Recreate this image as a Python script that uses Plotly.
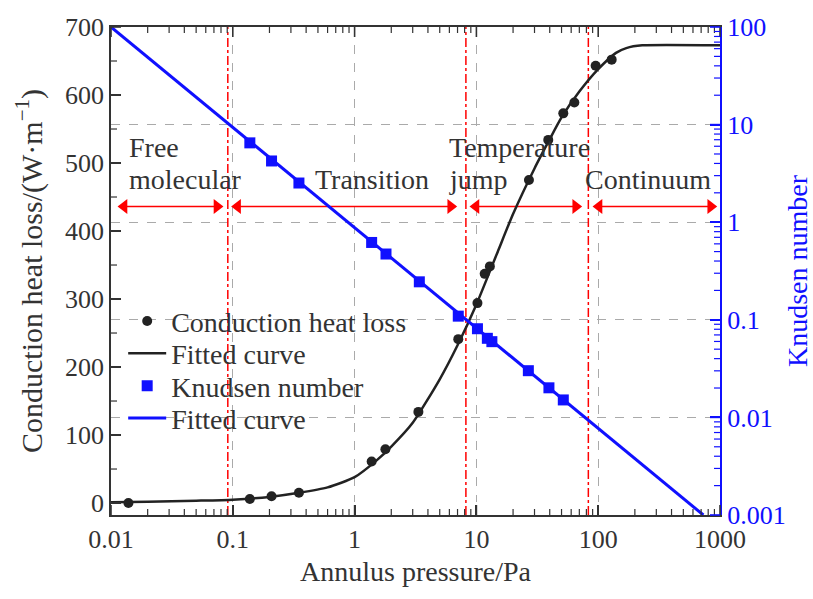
import numpy as np
import plotly.graph_objects as go

# ---------------- data ----------------
# Conduction heat loss measurements (W/m) vs annulus pressure (Pa)
p_heat = [0.0139, 0.138, 0.208, 0.349, 1.38, 1.79, 3.34, 7.1, 10.2, 11.7, 12.9,
          27.0, 38.9, 51.7, 63.7, 95.3, 129]
q_heat = [0, 6, 10, 15, 61, 79, 134, 241, 294, 337, 348,
          475, 534, 573, 589, 643, 652]

# fitted curve for heat loss
p_heat_fit = [0.01, 0.02, 0.05, 0.1, 0.2, 0.35, 0.6, 1, 1.5, 2, 3, 5, 7, 10, 15,
              20, 30, 40, 50, 70, 100, 140, 170, 230, 1000]
q_heat_fit = [1, 2, 3.5, 5, 9, 15, 23, 38, 62, 83, 118, 182, 232, 292, 370,
              425, 492, 535, 567, 605, 638, 662, 669, 673, 673]

# Knudsen number measurements
p_kn = [0.138, 0.208, 0.349, 1.38, 1.81, 3.40, 7.10, 10.2, 12.3, 13.4, 26.7, 39.4, 51.7]
kn = [6.5, 4.24, 2.52, 0.62, 0.472, 0.245, 0.109, 0.081, 0.0646, 0.0597, 0.0301, 0.0201, 0.0151]

# Knudsen fitted line (straight in log-log)
p_kn_fit = [0.01, 730]
kn_fit = [100, 0.001]

# flow regime boundaries (Pa) and regime arrows (arrow-head centres)
boundary_p = [0.091, 8.2, 83]
arrow_start = [0.0128, 0.1096, 9.93, 101.6]
arrow_end = [0.0741, 6.15, 65.3, 839]
arrow_q = 436

regime_lines = [("Free", 0.0135, 1), ("molecular", 0.0135, 2), ("Transition", 0.455, 2),
                ("Temperature", 5.74, 1), ("jump", 5.74, 2), ("Continuum", 75, 2)]
line_q = {1: 523, 2: 476}

x_tickvals = [0.01, 0.1, 1, 10, 100, 1000]
x_ticktext = ["0.01", "0.1", "1", "10", "100", "1000"]
y_tickvals = [0, 100, 200, 300, 400, 500, 600, 700]
y_minor = [50, 150, 250, 350, 450, 550, 650]
y2_tickvals = [0.001, 0.01, 0.1, 1, 10, 100]
y2_ticktext = ["0.001", "0.01", "0.1", "1", "10", "100"]
x_minor = [k * 10.0 ** e for e in range(-2, 3) for k in range(2, 10)]
y2_minor = [k * 10.0 ** e for e in range(-3, 2) for k in range(2, 10)]

x_log_range = [-2, 3]
y_range = [-17.6, 700]
y2_log_range = [-3, 2]

# legend row centres (paper fraction)
legend_rows = [0.397, 0.331, 0.264, 0.198]

FONT = "Liberation Serif, Times New Roman, serif"
TXT = "#333333"
BLUE = "#1010ff"

W, H = 813, 599
ML, MR, MT, MB = 111, 93, 27, 84
PW, PH = W - ML - MR, H - MT - MB

fig = go.Figure()

# red dash-dot regime boundaries
for b in boundary_p:
    fig.add_trace(go.Scatter(x=[b, b], y=y_range, mode="lines",
                             line=dict(color="red", width=1.5, dash="dashdot"),
                             showlegend=False, hoverinfo="skip"))

# regime arrows
for s, e in zip(arrow_start, arrow_end):
    fig.add_trace(go.Scatter(x=[s, e], y=[arrow_q, arrow_q], mode="lines+markers",
                             line=dict(color="red", width=1.5),
                             marker=dict(symbol=["triangle-left", "triangle-right"], size=13,
                                         color="red"),
                             showlegend=False, hoverinfo="skip"))

fig.add_trace(go.Scatter(x=p_heat, y=q_heat, mode="markers", name="Conduction heat loss",
                         marker=dict(symbol="circle", size=10, color="#222222"),
                         legend="legend"))
fig.add_trace(go.Scatter(x=p_heat_fit, y=q_heat_fit, mode="lines", name="Fitted curve",
                         line=dict(color="#222222", width=2.5, shape="spline", smoothing=0.6),
                         legend="legend2"))
fig.add_trace(go.Scatter(x=p_kn, y=kn, mode="markers", name="Knudsen number", yaxis="y2",
                         marker=dict(symbol="square", size=11, color=BLUE),
                         legend="legend3"))
fig.add_trace(go.Scatter(x=p_kn_fit, y=kn_fit, mode="lines", name="Fitted curve", yaxis="y2",
                         line=dict(color=BLUE, width=3), legend="legend4"))

# regime labels
for txt, px, ln in regime_lines:
    fig.add_annotation(x=np.log10(px), y=line_q[ln], xref="x", yref="y", text=txt,
                       showarrow=False, xanchor="left", yanchor="middle",
                       font=dict(family=FONT, size=28, color=TXT))

# inward tick marks drawn explicitly (paper coordinates derived from the axis ranges)
def xfrac(v):
    return (np.log10(v) - x_log_range[0]) / (x_log_range[1] - x_log_range[0])

def y2frac(v):
    return (np.log10(v) - y2_log_range[0]) / (y2_log_range[1] - y2_log_range[0])

tick_shapes = []
for vals, length, width in [(x_tickvals, 10, 1.6), (x_minor, 6, 1.2)]:
    for v in vals:
        f = xfrac(v)
        for y0, sgn in [(0, 1), (1, -1)]:
            tick_shapes.append(dict(type="line", xref="paper", yref="paper", x0=f, x1=f,
                                    y0=y0, y1=y0 + sgn * length / PH,
                                    line=dict(color="#333333", width=width)))
for vals, length, width in [(y_tickvals, 10, 1.6), (y_minor, 6, 1.2)]:
    for v in vals:
        tick_shapes.append(dict(type="line", xref="paper", yref="y", x0=0, x1=length / PW,
                                y0=v, y1=v, line=dict(color="#333333", width=width)))
for vals, length, width in [(y2_tickvals, 10, 1.6), (y2_minor, 6, 1.2)]:
    for v in vals:
        f = y2frac(v)
        tick_shapes.append(dict(type="line", xref="paper", yref="paper", x0=1,
                                x1=1 - length / PW, y0=f, y1=f,
                                line=dict(color=BLUE, width=width)))

leg_common = dict(x=0.02, xanchor="left", yanchor="middle", bgcolor="rgba(0,0,0,0)",
                  font=dict(family=FONT, size=28, color=TXT), itemwidth=38)
legends = {}
for i, yy in enumerate(legend_rows):
    key = "legend" if i == 0 else f"legend{i + 1}"
    legends[key] = dict(y=yy, **leg_common)

fig.update_layout(
    width=W, height=H,
    margin=dict(l=ML, r=MR, t=MT, b=MB, autoexpand=False),
    paper_bgcolor="white", plot_bgcolor="white",
    font=dict(family=FONT, size=26, color=TXT),
    showlegend=True,
    shapes=tick_shapes,
    **legends,
    xaxis=dict(type="log", range=x_log_range, tickmode="array", tickvals=x_tickvals,
               ticktext=x_ticktext, ticks="inside", ticklen=10, tickwidth=1.6,
               tickcolor="#333", showline=True, linecolor="#333", linewidth=1.5,
               mirror=True, showgrid=True, gridcolor="#aaaaaa", griddash="dash",
               automargin=False,
               title=dict(text="Annulus pressure/Pa", font=dict(family=FONT, size=28, color=TXT),
                          standoff=8),
               tickfont=dict(family=FONT, size=26, color=TXT)),
    yaxis=dict(range=y_range, tickmode="array", tickvals=y_tickvals, ticks="inside",
               ticklen=10, tickwidth=1.6, tickcolor="#333", showline=True, linecolor="#333",
               linewidth=1.5, showgrid=False, automargin=False,
               title=dict(text="Conduction heat loss/(W·m<sup>−1</sup>)",
                          font=dict(family=FONT, size=30, color=TXT), standoff=14),
               tickfont=dict(family=FONT, size=26, color=TXT)),
    yaxis2=dict(type="log", range=y2_log_range, overlaying="y", side="right",
                tickmode="array", tickvals=y2_tickvals, ticktext=y2_ticktext,
                ticks="inside", ticklen=10, tickwidth=1.6, tickcolor=BLUE,
                showline=True, linecolor=BLUE, linewidth=2,
                showgrid=True, gridcolor="#aaaaaa", griddash="dash",
                automargin=False,
                title=dict(text="Knudsen number", font=dict(family=FONT, size=28, color=BLUE),
                           standoff=8),
                tickfont=dict(family=FONT, size=26, color=BLUE)),
)

fig.write_html("out.html")
